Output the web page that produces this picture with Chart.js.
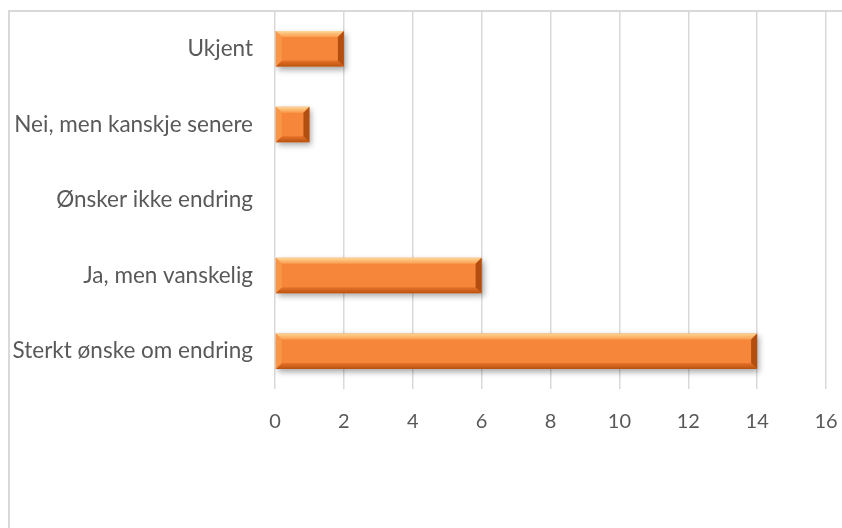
<!DOCTYPE html>
<html lang="no">
<head>
    <meta charset="UTF-8">
    <title>Ønske om endring</title>
    <script src="https://cdn.jsdelivr.net/npm/chart.js"></script>
    <style>
        body {
            margin: 0;
            padding: 0;
            background: #ffffff;
        }
        canvas {
            display: block;
        }
    </style>
</head>
<body>
    <canvas id="endringChart" width="842" height="528"></canvas>

    <script>
        const categories = ['Ukjent', 'Nei, men kanskje senere', 'Ønsker ikke endring', 'Ja, men vanskelig', 'Sterkt ønske om endring'];
        const values = [2, 1, 0, 6, 14];
        const xTicks = [0, 2, 4, 6, 8, 10, 12, 14, 16];

        const textColor = '#595959';
        const gridColor = '#d9d9d9';

        // frame around the chart (cropped on the right and bottom in the original)
        const framePlugin = {
            id: 'frame',
            beforeDraw(chart) {
                const ctx = chart.ctx;
                ctx.save();
                ctx.strokeStyle = gridColor;
                ctx.lineWidth = 2;
                ctx.beginPath();
                ctx.moveTo(9, chart.height);
                ctx.lineTo(9, 11);
                ctx.lineTo(chart.width, 11);
                ctx.stroke();
                ctx.restore();
            }
        };

        // shadow + bevel to imitate the Office 3D bar look
        const bevelPlugin = {
            id: 'bevel',
            beforeDatasetsDraw(chart) {
                const ctx = chart.ctx;
                ctx.save();
                ctx.shadowColor = 'rgba(0,0,0,0.35)';
                ctx.shadowBlur = 6;
                ctx.shadowOffsetX = 2;
                ctx.shadowOffsetY = 3;
            },
            afterDatasetsDraw(chart) {
                const ctx = chart.ctx;
                ctx.restore();
                const meta = chart.getDatasetMeta(0);
                meta.data.forEach(bar => {
                    const p = bar.getProps(['x', 'y', 'base', 'height'], true);
                    const l = Math.min(p.x, p.base);
                    const r = Math.max(p.x, p.base);
                    const t = p.y - p.height / 2;
                    const b = p.y + p.height / 2;
                    if (r - l < 2) return;
                    const bw = Math.min(6, (r - l) / 2);

                    ctx.save();
                    let g = ctx.createLinearGradient(0, t, 0, t + bw);
                    g.addColorStop(0, '#fdd79a');
                    g.addColorStop(1, '#fa9c4c');
                    ctx.fillStyle = g;
                    ctx.beginPath();
                    ctx.moveTo(l, t); ctx.lineTo(r, t); ctx.lineTo(r - bw, t + bw); ctx.lineTo(l + bw, t + bw);
                    ctx.closePath(); ctx.fill();

                    g = ctx.createLinearGradient(0, b - bw, 0, b);
                    g.addColorStop(0, '#e8722a');
                    g.addColorStop(1, '#b8520f');
                    ctx.fillStyle = g;
                    ctx.beginPath();
                    ctx.moveTo(l, b); ctx.lineTo(r, b); ctx.lineTo(r - bw, b - bw); ctx.lineTo(l + bw, b - bw);
                    ctx.closePath(); ctx.fill();

                    ctx.fillStyle = '#f99647';
                    ctx.beginPath();
                    ctx.moveTo(l, t); ctx.lineTo(l + bw, t + bw); ctx.lineTo(l + bw, b - bw); ctx.lineTo(l, b);
                    ctx.closePath(); ctx.fill();

                    ctx.fillStyle = '#b14e10';
                    ctx.beginPath();
                    ctx.moveTo(r, t); ctx.lineTo(r - bw, t + bw); ctx.lineTo(r - bw, b - bw); ctx.lineTo(r, b);
                    ctx.closePath(); ctx.fill();
                    ctx.restore();
                });
            }
        };

        const ctx = document.getElementById('endringChart').getContext('2d');
        const endringChart = new Chart(ctx, {
            type: 'bar',
            data: {
                labels: categories,
                datasets: [{
                    data: values,
                    backgroundColor: '#f5863a',
                    borderWidth: 0,
                    barPercentage: 0.47,
                    categoryPercentage: 1.0
                }]
            },
            options: {
                indexAxis: 'y',
                responsive: false,
                animation: false,
                layout: {
                    padding: { top: 11, right: 16, left: 0, bottom: 0 }
                },
                plugins: {
                    legend: { display: false },
                    tooltip: { enabled: false }
                },
                scales: {
                    x: {
                        min: 0,
                        max: 16,
                        afterBuildTicks(scale) {
                            scale.ticks = xTicks.map(v => ({ value: v }));
                        },
                        afterFit(scale) {
                            scale.height = 528 - 389;
                            scale.paddingLeft = 0;
                            scale.paddingRight = 0;
                        },
                        grid: {
                            color: gridColor,
                            lineWidth: 1.5,
                            drawTicks: false
                        },
                        border: { display: false },
                        ticks: {
                            color: textColor,
                            padding: 21,
                            font: { family: 'Lato', size: 20 }
                        }
                    },
                    y: {
                        afterFit(scale) {
                            scale.width = 275;
                            scale.paddingTop = 0;
                            scale.paddingBottom = 0;
                        },
                        grid: { display: false, drawTicks: false },
                        border: { display: false },
                        ticks: {
                            color: textColor,
                            padding: 22,
                            font: { family: 'Lato', size: 22.5 }
                        }
                    }
                }
            },
            plugins: [framePlugin, bevelPlugin]
        });
    </script>
</body>
</html>
